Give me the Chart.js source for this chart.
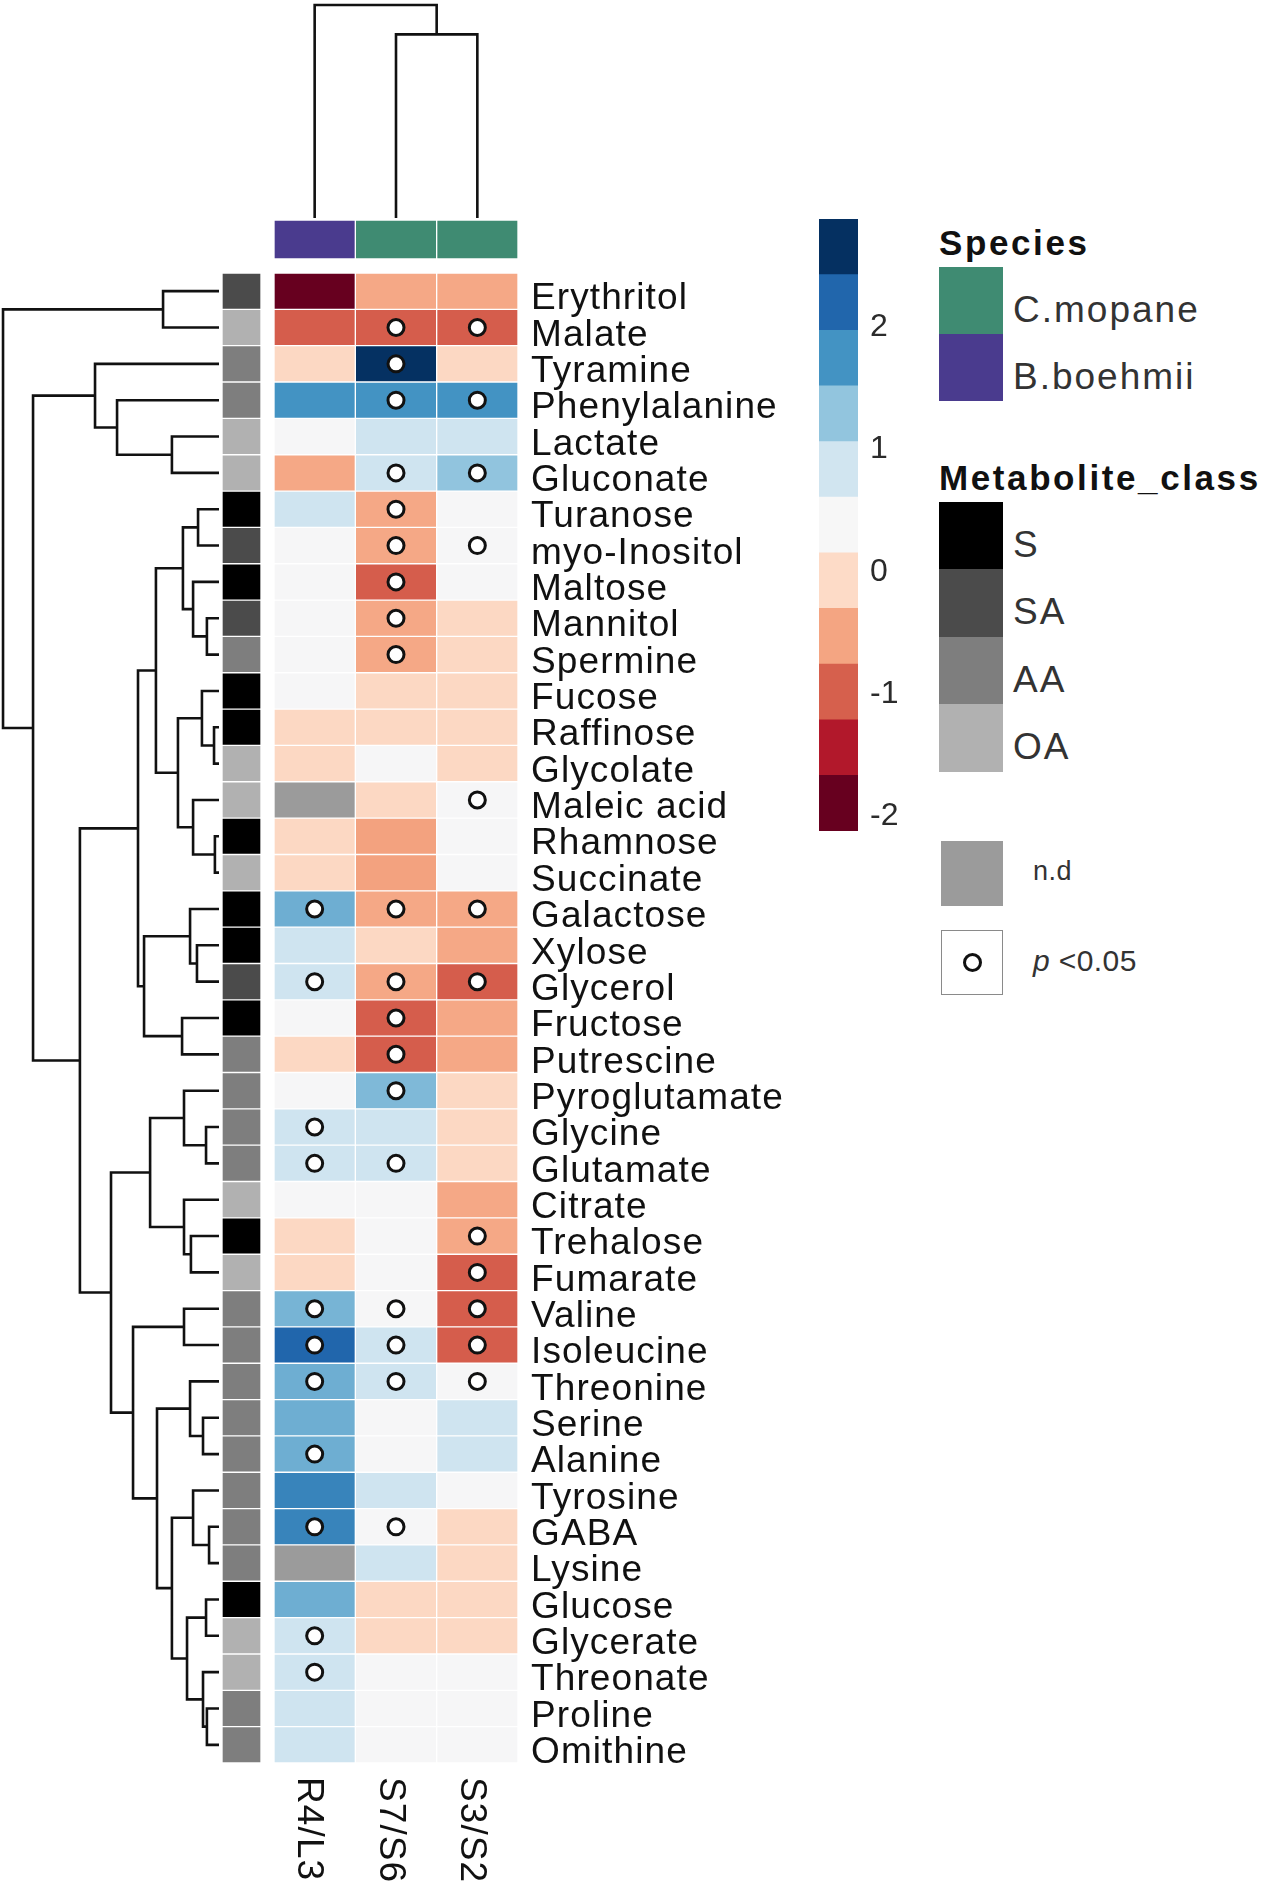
<!DOCTYPE html>
<html>
<head>
<meta charset="utf-8">
<title>Metabolite ratios heatmap</title>
<script src="https://cdn.jsdelivr.net/npm/chart.js@4.4.1/dist/chart.umd.min.js"></script>
<style>
  html, body { margin: 0; padding: 0; background: #fff; }
  #page { position: relative; width: 1267px; height: 1889px; overflow: hidden; font-family: "Liberation Sans", Arial, sans-serif; }
  #page canvas { position: absolute; }
  .lg-title { position: absolute; left: 939px; font-weight: bold; font-size: 35px; letter-spacing: 2.6px; color: #111; line-height: 1; transform: translateY(-50%); white-space: nowrap; }
  .lg-key { position: absolute; box-sizing: border-box; }
  .lg-text { position: absolute; font-size: 37px; letter-spacing: 2px; color: #333; line-height: 1; transform: translateY(-50%); white-space: nowrap; }
</style>
</head>
<body>
<div id="page">
  <canvas id="colDendro"></canvas>
  <canvas id="speciesBar"></canvas>
  <canvas id="rowDendro"></canvas>
  <canvas id="classBar"></canvas>
  <canvas id="heatmap"></canvas>
  <canvas id="colorBar"></canvas>
</div>
<script>
// ---- data ----
const rowNames = ['Erythritol', 'Malate', 'Tyramine', 'Phenylalanine', 'Lactate', 'Gluconate',
  'Turanose', 'myo-Inositol', 'Maltose', 'Mannitol', 'Spermine', 'Fucose', 'Raffinose', 'Glycolate',
  'Maleic acid', 'Rhamnose', 'Succinate', 'Galactose', 'Xylose', 'Glycerol', 'Fructose', 'Putrescine',
  'Pyroglutamate', 'Glycine', 'Glutamate', 'Citrate', 'Trehalose', 'Fumarate', 'Valine', 'Isoleucine',
  'Threonine', 'Serine', 'Alanine', 'Tyrosine', 'GABA', 'Lysine', 'Glucose', 'Glycerate', 'Threonate',
  'Proline', 'Omithine'];

const colNames = ['R4/L3', 'S7/S6', 'S3/S2'];
const colSpecies = ['B.boehmii', 'C.mopane', 'C.mopane'];

// scaled ratio per comparison, in rowNames order (null = n.d)
const valR4L3 = [-1.9, -1.0, -0.1, 1.75, 0.4, -0.5, 0.85, 0.4, 0.4, 0.4, 0.4, 0.4, -0.1, -0.1,
  null, -0.1, -0.1, 1.5, 0.85, 0.85, 0.4, -0.1, 0.4, 0.85, 0.85, 0.4, -0.1, -0.1, 1.45, 2.2,
  1.5, 1.5, 1.5, 1.9, 1.9, null, 1.5, 0.85, 0.85, 0.85, 0.85];
const valS7S6 = [-0.5, -1.0, 2.65, 1.75, 0.85, 0.85, -0.5, -0.5, -1.0, -0.5, -0.5, -0.1, -0.1, 0.4,
  -0.1, -0.55, -0.55, -0.5, -0.1, -0.5, -1.0, -1.0, 1.4, 0.85, 0.85, 0.4, 0.4, 0.4, 0.4, 0.85,
  0.85, 0.4, 0.4, 0.85, 0.4, 0.85, -0.1, -0.1, 0.4, 0.4, 0.4];
const valS3S2 = [-0.5, -1.0, -0.1, 1.75, 0.85, 1.3, 0.4, 0.4, 0.4, -0.1, -0.1, -0.1, -0.1, -0.1,
  0.4, 0.4, 0.4, -0.5, -0.5, -1.0, -0.5, -0.5, -0.1, -0.1, -0.1, -0.5, -0.5, -1.0, -1.0, -1.0,
  0.4, 0.85, 0.85, 0.4, -0.1, -0.1, -0.1, -0.1, 0.4, 0.4, 0.4];

// p < 0.05 per comparison
const sigR4L3 = ['Galactose', 'Glycerol', 'Glycine', 'Glutamate', 'Valine', 'Isoleucine',
  'Threonine', 'Alanine', 'GABA', 'Glycerate', 'Threonate'];
const sigS7S6 = ['Malate', 'Tyramine', 'Phenylalanine', 'Gluconate', 'Turanose', 'myo-Inositol',
  'Maltose', 'Mannitol', 'Spermine', 'Galactose', 'Glycerol', 'Fructose', 'Putrescine',
  'Pyroglutamate', 'Glutamate', 'Valine', 'Isoleucine', 'Threonine', 'GABA'];
const sigS3S2 = ['Malate', 'Phenylalanine', 'Gluconate', 'myo-Inositol', 'Maleic acid', 'Galactose',
  'Glycerol', 'Trehalose', 'Fumarate', 'Valine', 'Isoleucine', 'Threonine'];

const rowClass = ['SA', 'OA', 'AA', 'AA', 'OA', 'OA', 'S', 'SA', 'S', 'SA', 'AA', 'S', 'S', 'OA',
  'OA', 'S', 'OA', 'S', 'S', 'SA', 'S', 'AA', 'AA', 'AA', 'AA', 'OA', 'S', 'OA', 'AA', 'AA',
  'AA', 'AA', 'AA', 'AA', 'AA', 'AA', 'S', 'OA', 'OA', 'AA', 'AA'];

const speciesNames = ['C.mopane', 'B.boehmii'];
const speciesColors = ['#3f8b72', '#4a3b8e'];
const classNames = ['S', 'SA', 'AA', 'OA'];
const classColors = ['#000000', '#4b4b4b', '#7e7e7e', '#b1b1b1'];

const scaleBreaks = [-2.12, -1.665, -1.21, -0.755, -0.3, 0.155, 0.61, 1.065, 1.52, 1.975, 2.43, 2.885];
const scaleColors = ['#67001f', '#b2182b', '#d6604d', '#f4a582', '#fddbc7', '#f7f7f7',
  '#d1e5f0', '#92c5de', '#4393c3', '#2166ac', '#053061'];
const ndColor = '#9b9b9b';

// clustering trees: [height, left, right]
const rowTreeSugars = [3.75,
  [2.92,
    [1.67, [0.97, 'Turanose', 'myo-Inositol'], [1.20, 'Maltose', [0.56, 'Mannitol', 'Spermine']]],
    [1.90, [0.79, 'Fucose', [0.23, 'Raffinose', 'Glycolate']], [1.20, 'Maleic acid', [0.19, 'Rhamnose', 'Succinate']]]],
  [3.47,
    [1.34, 'Galactose', [1.02, 'Xylose', 'Glycerol']],
    [1.71, 'Fructose', 'Putrescine']]];
const rowTreeAmino = [5.00,
  [3.19,
    [1.62, 'Pyroglutamate', [0.60, 'Glycine', 'Glutamate']],
    [1.62, 'Citrate', [1.30, 'Trehalose', 'Fumarate']]],
  [3.98,
    [1.62, 'Valine', 'Isoleucine'],
    [2.87,
      [1.34, 'Threonine', [0.74, 'Serine', 'Alanine']],
      [2.18,
        [1.20, 'Tyrosine', [0.46, 'GABA', 'Lysine']],
        [1.48, [0.60, 'Glucose', 'Glycerate'], [0.74, 'Threonate', [0.56, 'Proline', 'Omithine']]]]]]];
const rowTreeOA = [8.61,
  [5.74, 'Tyramine', [4.72, 'Phenylalanine', [2.18, 'Lactate', 'Gluconate']]],
  [6.44, rowTreeSugars, rowTreeAmino]];
const rowTree = [10.0, [2.59, 'Erythritol', 'Malate'], rowTreeOA];

const colTree = [10.0, 'R4/L3', [8.62, 'S7/S6', 'S3/S2']];

// ---- layout ----
const FONT = '"Liberation Sans", Arial, sans-serif';
const HM = { left: 274, top: 273, width: 244, height: 1490 };
const PAD_TOP = 12, PAD_BOTTOM = 127;

function place(id, left, top, width, height) {
  const c = document.getElementById(id);
  c.width = width;
  c.height = height;
  c.style.left = left + 'px';
  c.style.top = top + 'px';
  return c;
}

// colour ramp through the key colours, anchored at the middle of each key bin
function hexRgb(h) {
  return [1, 3, 5].map(i => parseInt(h.slice(i, i + 2), 16));
}
const rampStops = scaleColors.map((c, i) => ({ v: (scaleBreaks[i] + scaleBreaks[i + 1]) / 2, rgb: hexRgb(c) }));

function colorFor(v) {
  if (v === null) return ndColor;
  if (v <= rampStops[0].v) return scaleColors[0];
  for (let i = 1; i < rampStops.length; i++) {
    const a = rampStops[i - 1], b = rampStops[i];
    if (v <= b.v) {
      const t = (v - a.v) / (b.v - a.v);
      const rgb = a.rgb.map((x, k) => Math.round(x + (b.rgb[k] - x) * t));
      return `rgb(${rgb.join(',')})`;
    }
  }
  return scaleColors[scaleColors.length - 1];
}

// walk a tree, collecting the elbow segments (separated by null)
function treeSegments(node, leafPos, out) {
  if (typeof node === 'string') return { pos: leafPos(node), h: 0 };
  const [h, a, b] = node;
  const l = treeSegments(a, leafPos, out);
  const r = treeSegments(b, leafPos, out);
  out.push([l.h, l.pos], [h, l.pos], [h, r.pos], [r.h, r.pos], null);
  return { pos: (l.pos + r.pos) / 2, h };
}

const base = {
  responsive: false,
  animation: false,
  events: [],
  plugins: { legend: { display: false }, tooltip: { enabled: false } }
};

function pad(top, bottom, left, right) {
  return { autoPadding: false, padding: { top, bottom, left, right } };
}

const spacingPlugin = {
  id: 'spacing',
  beforeDraw(chart, args, opts) { chart.ctx.letterSpacing = opts.value || '0px'; }
};

// ---- row dendrogram ----
const rowSegs = [];
treeSegments(rowTree, name => rowNames.indexOf(name), rowSegs);
new Chart(place('rowDendro', 0, HM.top - PAD_TOP, 222, PAD_TOP + HM.height + PAD_BOTTOM), {
  type: 'scatter',
  data: {
    datasets: [{
      data: rowSegs.map(p => p ? { x: p[0], y: p[1] } : { x: NaN, y: NaN }),
      showLine: true, spanGaps: false, borderColor: '#111', borderWidth: 2.6,
      pointRadius: 0, clip: false
    }]
  },
  options: {
    ...base,
    layout: pad(PAD_TOP, PAD_BOTTOM, 0, 3),
    scales: {
      x: { type: 'linear', reverse: true, min: 0, max: 10.14, display: false },
      y: { type: 'linear', reverse: true, min: -0.5, max: rowNames.length - 0.5, display: false }
    }
  }
});

// ---- column dendrogram ----
const colSegs = [];
treeSegments(colTree, name => colNames.indexOf(name) + 0.5, colSegs);
new Chart(place('colDendro', HM.left, 0, HM.width, 220), {
  type: 'scatter',
  data: {
    datasets: [{
      data: colSegs.map(p => p ? { x: p[1], y: p[0] } : { x: NaN, y: NaN }),
      showLine: true, spanGaps: false, borderColor: '#111', borderWidth: 2.6,
      pointRadius: 0, clip: false
    }]
  },
  options: {
    ...base,
    layout: pad(5, 2, 0, 0),
    scales: {
      x: { type: 'linear', min: 0, max: colNames.length, display: false },
      y: { type: 'linear', min: 0, max: 10, display: false }
    }
  }
});

// ---- species annotation ----
new Chart(place('speciesBar', HM.left, 220, HM.width, 39), {
  type: 'bar',
  data: {
    labels: colNames,
    datasets: [{
      data: colNames.map(() => [0, 1]),
      backgroundColor: colSpecies.map(s => speciesColors[speciesNames.indexOf(s)]),
      borderColor: 'rgba(255,255,255,0.35)', borderWidth: 1, borderSkipped: false,
      barPercentage: 1, categoryPercentage: 1
    }]
  },
  options: {
    ...base,
    layout: pad(0, 0, 0, 0),
    scales: { x: { display: false }, y: { display: false, min: 0, max: 1 } }
  }
});

// ---- metabolite class annotation ----
new Chart(place('classBar', 222, HM.top - PAD_TOP, 39, PAD_TOP + HM.height + PAD_BOTTOM), {
  type: 'bar',
  data: {
    labels: rowNames,
    datasets: [{
      data: rowNames.map(() => [0, 1]),
      backgroundColor: rowClass.map(c => classColors[classNames.indexOf(c)]),
      borderColor: 'rgba(255,255,255,0.12)', borderWidth: 1, borderSkipped: false,
      barPercentage: 1, categoryPercentage: 1
    }]
  },
  options: {
    ...base,
    indexAxis: 'y',
    layout: pad(PAD_TOP, PAD_BOTTOM, 0, 0),
    scales: {
      x: { type: 'linear', min: 0, max: 1, display: false },
      y: { type: 'category', display: false }
    }
  }
});

// ---- heatmap ----
const colValues = [valR4L3, valS7S6, valS3S2];
const colSig = [sigR4L3, sigS7S6, sigS3S2];

const cellSets = colValues.map((vals, c) => ({
  type: 'bar',
  order: 1,
  data: vals.map(() => [c, c + 1]),
  backgroundColor: vals.map(colorFor),
  borderColor: 'rgba(255,255,255,0.4)', borderWidth: 1, borderSkipped: false,
  grouped: false, barPercentage: 1, categoryPercentage: 1
}));

const sigSets = colSig.map((names, c) => ({
  type: 'scatter',
  order: 0,
  data: names.map(n => ({ x: c + 0.5, y: n })),
  pointRadius: 8, pointBorderWidth: 3,
  pointBackgroundColor: '#fff', pointBorderColor: '#111'
}));

const colLabelPlugin = {
  id: 'colLabels',
  afterDraw(chart) {
    const { ctx, chartArea, scales } = chart;
    ctx.save();
    ctx.font = '37px ' + FONT;
    ctx.fillStyle = '#111';
    ctx.textAlign = 'left';
    ctx.textBaseline = 'middle';
    colNames.forEach((name, c) => {
      ctx.save();
      ctx.translate(scales.x.getPixelForValue(c + 0.5) - 6, chartArea.bottom + 14);
      ctx.rotate(Math.PI / 2);
      ctx.fillText(name, 0, 0);
      ctx.restore();
    });
    ctx.restore();
  }
};

new Chart(place('heatmap', HM.left, HM.top - PAD_TOP, HM.width + 300, PAD_TOP + HM.height + PAD_BOTTOM), {
  type: 'bar',
  data: { labels: rowNames, datasets: [...sigSets, ...cellSets] },
  plugins: [spacingPlugin, colLabelPlugin],
  options: {
    ...base,
    indexAxis: 'y',
    layout: pad(PAD_TOP, PAD_BOTTOM, 0, 0),
    plugins: { ...base.plugins, spacing: { value: '1.1px' } },
    scales: {
      x: { type: 'linear', min: 0, max: colNames.length, display: false },
      y: {
        type: 'category',
        position: 'right',
        offset: true,
        grid: { display: false, drawTicks: false },
        border: { display: false },
        ticks: { autoSkip: false, padding: 13, labelOffset: 8, color: '#111', font: { size: 37, family: FONT } },
        afterFit(scale) { scale.width = 300; scale.paddingTop = 0; scale.paddingBottom = 0; }
      }
    }
  }
});

// ---- colour key ----
const keySets = scaleColors.map((col, i) => ({
  data: [[scaleBreaks[i], scaleBreaks[i + 1]]],
  backgroundColor: col,
  borderWidth: 0,
  grouped: false, barPercentage: 1, categoryPercentage: 1
}));

new Chart(place('colorBar', 819, 199, 39 + 62, 652), {
  type: 'bar',
  data: { labels: [''], datasets: keySets },
  options: {
    ...base,
    layout: pad(20, 20, 0, 0),
    scales: {
      x: { display: false },
      y: {
        type: 'linear',
        position: 'right',
        min: scaleBreaks[0],
        max: scaleBreaks[scaleBreaks.length - 1],
        grid: { display: false, drawTicks: false },
        border: { display: false },
        ticks: { stepSize: 1, includeBounds: false, padding: 12, color: '#2b2b2b', font: { size: 32, family: FONT } },
        afterFit(scale) { scale.width = 62; scale.paddingTop = 0; scale.paddingBottom = 0; }
      }
    }
  }
});

// ---- annotation legends ----
const page = document.getElementById('page');
function addEl(cls, css, text) {
  const d = document.createElement('div');
  d.className = cls;
  Object.assign(d.style, css);
  if (text !== undefined) d.textContent = text;
  page.appendChild(d);
  return d;
}

addEl('lg-title', { top: '242px' }, 'Species');
speciesNames.forEach((name, i) => {
  const top = 267 + i * 67;
  addEl('lg-key', { left: '939px', top: top + 'px', width: '64px', height: '67px', background: speciesColors[i] });
  addEl('lg-text', { left: '1013px', top: (top + 42) + 'px' }, name);
});

addEl('lg-title', { top: '477px' }, 'Metabolite_class');
classNames.forEach((name, i) => {
  const top = 502 + i * 67.25;
  addEl('lg-key', { left: '939px', top: top + 'px', width: '64px', height: '68px', background: classColors[i] });
  addEl('lg-text', { left: '1013px', top: (top + 42) + 'px' }, name);
});

addEl('lg-key', { left: '941px', top: '841px', width: '62px', height: '65px', background: ndColor });
addEl('lg-text', { left: '1033px', top: '871px', fontSize: '27px', letterSpacing: '0.5px' }, 'n.d');

addEl('lg-key', { left: '941px', top: '930px', width: '62px', height: '65px', background: '#fff', border: '1.5px solid #8a8a8a' });
addEl('lg-key', { left: '963px', top: '953px', width: '19px', height: '19px', borderRadius: '50%', border: '3px solid #111', background: '#fff' });
const pText = addEl('lg-text', { left: '1033px', top: '961px', fontSize: '30px', letterSpacing: '0.4px' });
pText.innerHTML = '<i>p</i> &lt;0.05';
</script>
</body>
</html>
